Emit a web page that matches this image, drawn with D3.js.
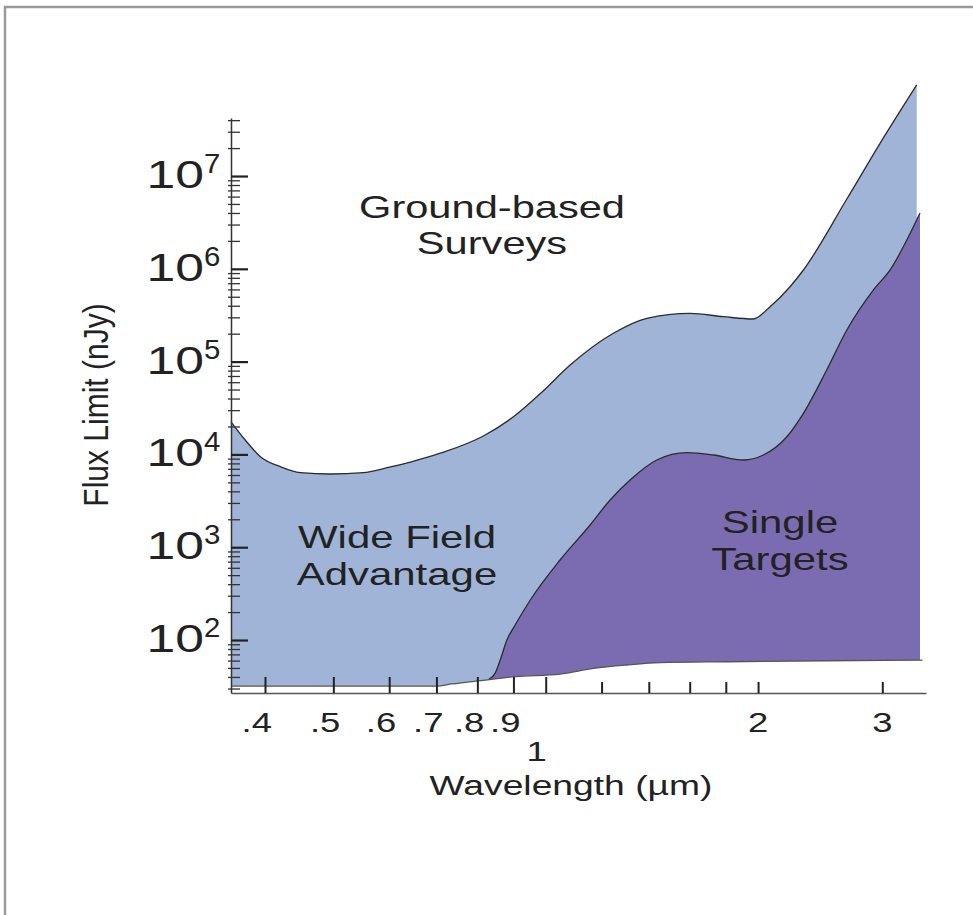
<!DOCTYPE html>
<html>
<head>
<meta charset="utf-8">
<script src="https://cdn.jsdelivr.net/npm/d3@7"></script>
<style>
  html, body { margin: 0; padding: 0; background: #fff; }
  svg { display: block; }
  text { font-family: "Liberation Sans", Arial, Helvetica, sans-serif; fill: #222; }
</style>
</head>
<body>
<svg id="chart" width="973" height="915"></svg>
<script>
// Ground-based survey limit (upper envelope of the wide-field band): wavelength in µm, flux in nJy
const groundWave = [0.358, 0.375, 0.394, 0.4205, 0.449, 0.495, 0.551, 0.596, 0.643, 0.709, 0.816, 0.90, 0.982, 1.083, 1.247, 1.391, 1.602, 1.786, 1.969, 2.08, 2.22, 2.319, 2.672, 2.978, 3.357];
const groundFlux = [22500, 14300, 9440, 7380, 6360, 6150, 6360, 7190, 8280, 10300, 15800, 25400, 45000, 91900, 202000, 293000, 331000, 305000, 288000, 391000, 641000, 971000, 5.65e6, 2.25e7, 9.6e7];

// Single-target limit (upper edge of the single-target region)
const singleWave = [0.83, 0.848, 0.862, 0.881, 0.905, 0.951, 1.048, 1.156, 1.234, 1.317, 1.437, 1.585, 1.729, 1.906, 2.035, 2.197, 2.319, 2.502, 2.672, 2.913, 3.076, 3.393];
const singleFlux = [37.5, 44, 60.8, 100, 145, 270, 728, 1734, 3228, 5300, 8710, 10430, 9860, 8710, 9860, 15500, 27700, 81200, 219000, 591000, 971000, 3.99e6];

// Space-based floor (lower edge of both regions)
const floorWave = [0.358, 0.70, 0.736, 0.821, 0.905, 1.048, 1.169, 1.303, 1.453, 1.806, 2.50, 3.42];
const floorFlux = [31.9, 31.9, 33.6, 37, 40.3, 43, 49.5, 53.8, 57, 58.3, 59.8, 60.8];

// Axis ticks
const yMajorExps = [2, 3, 4, 5, 6, 7];
const xMajorValues = [0.4, 0.5, 0.6, 0.7, 0.8, 0.9, 1, 2, 3];
const xMajorLabels = [".4", ".5", ".6", ".7", ".8", ".9", "1", "2", "3"];
const xMinorValues = [1.2, 1.4, 1.6, 1.8];

// Region labels
const regionLabels = [
  { lines: ["Ground-based", "Surveys"], x: 492, y: 218, size: 32, sx: 1.3, lh: 36 },
  { lines: ["Wide Field", "Advantage"], x: 397, y: 548, size: 32, sx: 1.31, lh: 37 },
  { lines: ["Single", "Targets"], x: 780, y: 533, size: 32, sx: 1.31, lh: 37 }
];

const svg = d3.select("#chart");

// Outer frame
svg.append("rect")
  .attr("x", 5).attr("y", 7).attr("width", 990).attr("height", 930)
  .attr("fill", "none").attr("stroke", "#9a9a9a").attr("stroke-width", 2.5);

const x = d3.scaleLog().domain([0.358, 3.46]).range([231, 926]);
const y = d3.scaleLog().domain([26.85, 4.22e7]).range([693, 118]);

const toPts = (w, f) => w.map((v, i) => [v, f[i]]);
const ground = toPts(groundWave, groundFlux);
const single = toPts(singleWave, singleFlux);
const floor = toPts(floorWave, floorFlux);

const base = y.range()[0];
const area = d3.area().x(d => x(d[0])).y0(base).y1(d => y(d[1])).curve(d3.curveMonotoneX);
const line = d3.line().x(d => x(d[0])).y(d => y(d[1])).curve(d3.curveMonotoneX);

// Wide-field band, single-target region, then clear everything under the floor
svg.append("path").datum(ground).attr("d", area).attr("fill", "#9fb4d7");
svg.append("path").datum(single).attr("d", area).attr("fill", "#7b6cb2");
svg.append("path").datum(floor).attr("d", area).attr("fill", "#ffffff");

// Boundary outlines
[ground, single].forEach(data => {
  svg.append("path").datum(data).attr("d", line)
    .attr("fill", "none").attr("stroke", "#2b2b2b").attr("stroke-width", 1.3);
});
svg.append("path").datum(floor).attr("d", line)
  .attr("fill", "none").attr("stroke", "#555").attr("stroke-width", 1.3);

// Y axis: majors, minors
const yMajors = yMajorExps.map(e => Math.pow(10, e));
const yMinors = [];
for (let e = 1; e <= 7; e++) {
  for (let m = 2; m <= 9; m++) {
    const v = m * Math.pow(10, e);
    if (v >= y.domain()[0] && v <= y.domain()[1]) yMinors.push(v);
  }
}

const yAxisMinor = d3.axisRight(y).tickValues(yMinors).tickSize(12).tickSizeOuter(0).tickFormat("");
const yAxisMajor = d3.axisRight(y).tickValues(yMajors).tickSize(17).tickSizeOuter(0).tickFormat("");

svg.append("g").attr("transform", "translate(228,0)").call(yAxisMinor)
  .call(g => g.select(".domain").remove())
  .call(g => g.selectAll("line").attr("stroke", "#333").attr("stroke-width", 1.3));
svg.append("g").attr("transform", "translate(231,0)").call(yAxisMajor)
  .call(g => g.selectAll("line").attr("stroke", "#222").attr("stroke-width", 2.2))
  .call(g => g.select(".domain").attr("stroke", "#333").attr("stroke-width", 1.5));

// X axis: ticks pointing up into the plot
const xAxisLong = d3.axisTop(x).tickValues(xMajorValues.filter(v => v <= 1)).tickSize(16).tickSizeOuter(0).tickFormat("");
const xAxisShort = d3.axisTop(x).tickValues(xMajorValues.filter(v => v > 1).concat(xMinorValues)).tickSize(11).tickSizeOuter(0).tickFormat("");

svg.append("g").attr("transform", "translate(0,693)").call(xAxisLong)
  .call(g => g.selectAll("line").attr("stroke", "#222").attr("stroke-width", 2))
  .call(g => g.select(".domain").attr("stroke", "#555").attr("stroke-width", 1.5));
svg.append("g").attr("transform", "translate(0,693)").call(xAxisShort)
  .call(g => g.select(".domain").remove())
  .call(g => g.selectAll("line").attr("stroke", "#222").attr("stroke-width", 2));

// Text helper with horizontal stretch
function stretchedText(str, tx, ty, size, sx, anchor) {
  return svg.append("text")
    .attr("transform", `translate(${tx},${ty}) scale(${sx},1)`)
    .attr("text-anchor", anchor)
    .attr("font-size", size)
    .text(str);
}

// Y tick labels: 10 with superscript exponent
yMajorExps.forEach(e => {
  const ty = y(Math.pow(10, e));
  stretchedText("10", 204, ty + 12, 38, 1.36, "end");
  stretchedText(String(e), 204, ty - 3, 28, 1.05, "start");
});

// X tick labels
xMajorValues.forEach((v, i) => {
  const lab = xMajorLabels[i];
  const tx = x(v);
  if (lab.startsWith(".")) {
    stretchedText(lab, tx + 7, 732, 27, 1.35, "end");
  } else if (lab === "1") {
    stretchedText(lab, tx - 9, 761, 27, 1.35, "middle");
  } else {
    stretchedText(lab, tx, 732, 27, 1.35, "middle");
  }
});

// Axis titles
stretchedText("Wavelength (µm)", 571, 795, 28, 1.33, "middle");
svg.append("text")
  .attr("transform", "translate(108,405) scale(1.15,1) rotate(-90)")
  .attr("text-anchor", "middle")
  .attr("font-size", 30)
  .text("Flux Limit (nJy)");

// Region labels
regionLabels.forEach(r => {
  r.lines.forEach((ln, i) => {
    stretchedText(ln, r.x, r.y + i * r.lh, r.size, r.sx, "middle");
  });
});
</script>
</body>
</html>
